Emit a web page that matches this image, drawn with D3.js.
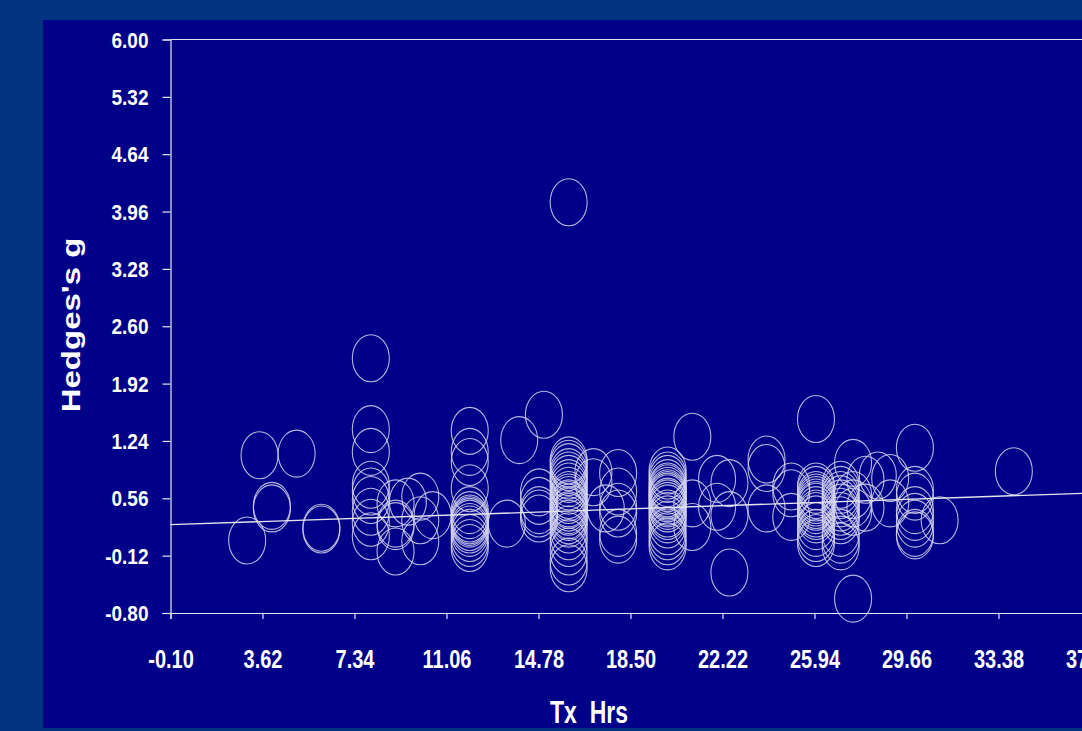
<!DOCTYPE html>
<html>
<head>
<meta charset="utf-8">
<script src="https://cdn.jsdelivr.net/npm/d3@7"></script>
<style>
  html, body { margin: 0; padding: 0; background: #003380; }
  svg { display: block; }
  text { font-family: "Liberation Sans", Arial, sans-serif; font-weight: bold; fill: #ffffff; }
</style>
</head>
<body>
<svg id="chart" width="1082" height="731"></svg>
<script>
// Effect sizes (Hedges's g) by treatment hours, one entry per study
const txHours = [
  3, 3.5, 4, 4, 5, 6, 6,
  8, 8, 8, 8, 8, 8, 8, 8, 8,
  9, 9, 9, 9, 9.5, 10, 10, 10, 10.5,
  12, 12, 12, 12, 12, 12, 12, 12, 12, 12, 12, 12, 12, 12, 12, 12,
  13.5, 14, 14.8, 14.8, 14.8, 14.8, 14.8, 15,
  16, 16, 16, 16, 16, 16, 16, 16, 16, 16, 16, 16, 16, 16,
  16, 16, 16, 16, 16, 16, 16, 16, 16, 16, 16, 16, 16, 16,
  17, 17, 17.5, 18, 18, 18, 18, 18, 18,
  20, 20, 20, 20, 20, 20, 20, 20, 20, 20, 20, 20,
  20, 20, 20, 20, 20, 20, 20, 20, 20, 20, 20,
  21, 21, 21, 22, 22, 22.5, 22.5, 22.5, 24, 24, 24, 25, 25, 25,
  26, 26, 26, 26, 26, 26, 26, 26, 26, 26, 26, 26, 26, 26, 26, 26, 26,
  27, 27, 27, 27, 27, 27, 27, 27, 27, 27, 27, 27,
  27.5, 27.5, 27.5, 27.5, 27.5, 28, 28, 28.5, 29, 29,
  30, 30, 30, 30, 30, 30, 30, 30, 31, 34
];
const hedgesG = [
  0.06, 1.07, 0.47, 0.44, 1.09, 0.21, 0.19,
  2.22, 1.38, 1.11, 0.72, 0.64, 0.54, 0.40, 0.27, 0.11,
  0.50, 0.26, 0.23, -0.07, 0.52, 0.58, 0.30, 0.05, 0.36,
  1.36, 1.11, 0.99, 0.68, 0.42, 0.36, 0.32, 0.30, 0.28, 0.26, 0.22, 0.19, 0.15, 0.09, 0.03, -0.03,
  0.26, 1.25, 0.63, 0.53, 0.42, 0.38, 0.32, 1.55,
  4.07, 1.01, 0.97, 0.93, 0.87, 0.83, 0.79, 0.74, 0.70, 0.65, 0.60, 0.57, 0.54, 0.50,
  0.48, 0.45, 0.42, 0.40, 0.36, 0.34, 0.30, 0.26, 0.19, 0.11, 0.03, -0.07, -0.19, -0.27,
  0.87, 0.75, 0.44, 0.86, 0.64, 0.46, 0.38, 0.15, 0.07,
  0.89, 0.83, 0.79, 0.74, 0.70, 0.68, 0.65, 0.62, 0.60, 0.58, 0.56, 0.52,
  0.50, 0.47, 0.44, 0.38, 0.35, 0.31, 0.25, 0.17, 0.11, 0.05, -0.01,
  1.29, 0.50, 0.22, 0.79, 0.46, 0.74, 0.36, -0.32, 1.02, 0.92, 0.44, 0.70, 0.62, 0.34,
  1.50, 0.70, 0.66, 0.60, 0.57, 0.54, 0.51, 0.48, 0.46, 0.42, 0.38, 0.35, 0.31, 0.23, 0.15, 0.09, 0.03,
  0.72, 0.66, 0.60, 0.55, 0.50, 0.45, 0.40, 0.35, 0.30, 0.15, 0.07, -0.01,
  0.98, 0.60, 0.50, 0.40, -0.63, 0.78, 0.45, 0.83, 0.80, 0.50,
  1.16, 0.66, 0.58, 0.42, 0.34, 0.26, 0.15, 0.12, 0.30, 0.88
];

// Fitted trend line: g = intercept + slope * hours
const trendIntercept = 0.248;
const trendSlope = 0.0101;

// Axis tick labels
const xTickValues = [-0.10, 3.62, 7.34, 11.06, 14.78, 18.50, 22.22, 25.94, 29.66, 33.38, 37.10];
const yTickValues = [-0.80, -0.12, 0.56, 1.24, 1.92, 2.60, 3.28, 3.96, 4.64, 5.32, 6.00];

const xLabel = "Tx  Hrs";
const yLabel = "Hedges's g";

const points = txHours.map((h, i) => ({ h, g: hedgesG[i] }));

const svg = d3.select("#chart");
const lineColor = "#e4e4ee";
const markColor = "#d4d4f0";

// Inner slide panel
svg.append("rect")
  .attr("x", 43).attr("y", 20)
  .attr("width", 1100).attr("height", 708)
  .attr("fill", "#000088");

const x = d3.scaleLinear().domain([-0.10, 37.10]).range([170.5, 1090.5]);
const y = d3.scaleLinear().domain([-0.80, 6.00]).range([613, 39.5]);

// Plot frame (top and right edges)
svg.append("path")
  .attr("d", `M${x(-0.10)},${y(6.00)}H${x(37.10)}V${y(-0.80)}`)
  .attr("fill", "none")
  .attr("stroke", lineColor)
  .attr("stroke-width", 1.2);

// Y axis
const yAxis = svg.append("g")
  .attr("transform", `translate(${x(-0.10)},0)`)
  .call(d3.axisLeft(y).tickValues(yTickValues).tickSize(8).tickPadding(14)
    .tickFormat(d => d.toFixed(2)));
yAxis.selectAll("text")
  .attr("font-size", 19)
  .attr("dy", "0.35em")
  .attr("transform", "scale(1,1.15)");

// X axis
const xAxis = svg.append("g")
  .attr("transform", `translate(0,${y(-0.80)})`)
  .call(d3.axisBottom(x).tickValues(xTickValues).tickSize(6)
    .tickFormat(d => d.toFixed(2)));
xAxis.selectAll("text")
  .attr("font-size", 20)
  .attr("y", 44)
  .attr("dy", 0)
  .attr("transform", "scale(1,1.25)");

svg.selectAll(".domain, .tick line")
  .attr("stroke", lineColor)
  .attr("stroke-width", 1.2);
svg.selectAll(".tick text").attr("fill", "#ffffff").attr("font-family", null);

// Study markers
svg.append("g")
  .selectAll("ellipse")
  .data(points)
  .join("ellipse")
  .attr("cx", d => x(d.h))
  .attr("cy", d => y(d.g))
  .attr("rx", 18.5)
  .attr("ry", 23.5)
  .attr("fill", "none")
  .attr("stroke", markColor)
  .attr("stroke-width", 1.1)
  .attr("stroke-opacity", 0.85);

// Trend line across the full hour range
const trendX = [-0.10, 37.10];
svg.append("line")
  .attr("x1", x(trendX[0])).attr("y1", y(trendIntercept + trendSlope * trendX[0]))
  .attr("x2", x(trendX[1])).attr("y2", y(trendIntercept + trendSlope * trendX[1]))
  .attr("stroke", lineColor)
  .attr("stroke-width", 1.3);

// Axis titles
svg.append("text")
  .attr("transform", "translate(589,723) scale(1,1.38)")
  .attr("text-anchor", "middle")
  .attr("font-size", 23)
  .style("white-space", "pre")
  .text(xLabel);

svg.append("text")
  .attr("transform", "translate(80,325) rotate(-90) scale(1.32,1)")
  .attr("text-anchor", "middle")
  .attr("font-size", 25)
  .text(yLabel);
</script>
</body>
</html>
